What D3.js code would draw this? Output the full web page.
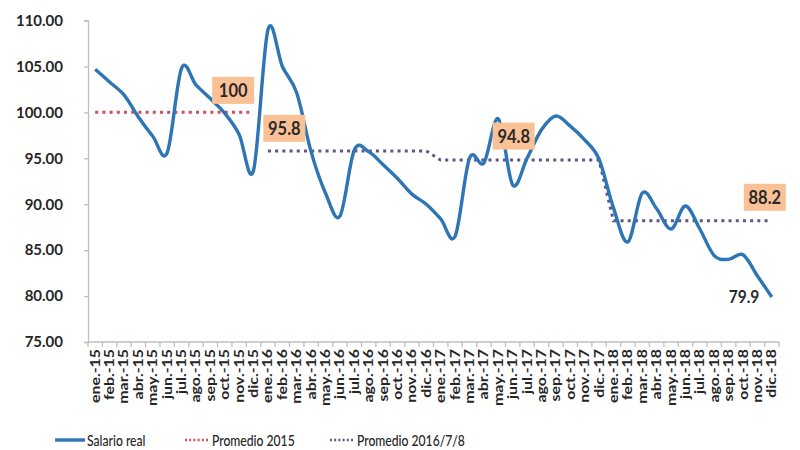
<!DOCTYPE html>
<html>
<head>
<meta charset="utf-8">
<script src="https://cdn.jsdelivr.net/npm/d3@7"></script>
<style>
  html, body { margin: 0; padding: 0; background: #ffffff; }
  svg { display: block; font-family: Lato, "Open Sans", sans-serif; }
</style>
</head>
<body>
<svg id="chart" width="800" height="450"></svg>
<script>
// ---------- data ----------
const months = [
  "ene.-15","feb.-15","mar.-15","abr.-15","may.-15","jun.-15","jul.-15","ago.-15","sep.-15","oct.-15","nov.-15","dic.-15",
  "ene.-16","feb.-16","mar.-16","abr.-16","may.-16","jun.-16","jul.-16","ago.-16","sep.-16","oct.-16","nov.-16","dic.-16",
  "ene.-17","feb.-17","mar.-17","abr.-17","may.-17","jun.-17","jul.-17","ago.-17","sep.-17","oct.-17","nov.-17","dic.-17",
  "ene.-18","feb.-18","mar.-18","abr.-18","may.-18","jun.-18","jul.-18","ago.-18","sep.-18","oct.-18","nov.-18","dic.-18"
];
const salarioReal = [
  104.7, 103.3, 101.9, 99.5, 97.4, 95.6, 104.8, 103.0, 101.5, 99.9, 97.6, 93.7,
  109.0, 105.0, 102.1, 95.7, 91.2, 88.7, 95.9, 95.7, 94.3, 92.8, 91.1, 90.0,
  88.4, 86.5, 95.0, 94.5, 99.3, 92.1, 95.0, 98.1, 99.6, 98.5, 97.0, 94.9,
  89.6, 85.9, 91.2, 89.5, 87.3, 89.8, 87.3, 84.4, 84.0, 84.5, 82.2, 79.9
];
const promedio2015Months = months.slice(0, 12);
const promedio2015 = [100,100,100,100,100,100,100,100,100,100,100,100];
const promedio161718Months = months.slice(12);
const promedio161718 = [
  95.8,95.8,95.8,95.8,95.8,95.8,95.8,95.8,95.8,95.8,95.8,95.8,
  94.8,94.8,94.8,94.8,94.8,94.8,94.8,94.8,94.8,94.8,94.8,94.8,
  88.2,88.2,88.2,88.2,88.2,88.2,88.2,88.2,88.2,88.2,88.2,88.2
];
const yTicks = [75, 80, 85, 90, 95, 100, 105, 110];
const seriesNames = ["Salario real", "Promedio 2015", "Promedio 2016/7/8"];
// annotation labels: [month, value, text, boxed]
const annotations = [
  ["nov.-15", 100, "100", true],
  ["feb.-16", 95.8, "95.8", true],
  ["jun.-17", 94.8, "94.8", true],
  ["dic.-18", 88.2, "88.2", true],
  ["oct.-18", 79.9, "79.9", false]
];

// ---------- layout ----------
const svg = d3.select("#chart");
const plotLeft = 88, plotRight = 779, plotTop = 20.5, plotBottom = 342;
const colBlue = "#2e75b6", colRed = "#cc4f5c", colPurple = "#625484";
const axisCol = "#bfbfbf", textCol = "#262626";

const x = d3.scaleBand().domain(months).range([plotLeft, plotRight]);
const xc = m => x(m) + x.bandwidth() / 2;
const y = d3.scaleLinear().domain([75, 110]).range([plotBottom, plotTop]);

// y axis
const yAxis = svg.append("g")
  .attr("transform", `translate(${plotLeft},0)`)
  .call(d3.axisLeft(y).tickValues(yTicks).tickFormat(d3.format(".2f")).tickSize(4).tickPadding(21));
yAxis.select(".domain").attr("stroke", axisCol).attr("stroke-width", 1.3);
yAxis.selectAll(".tick line").attr("stroke", axisCol).attr("stroke-width", 1.3);
yAxis.selectAll(".tick text")
  .attr("fill", textCol).attr("font-size", 15).attr("font-weight", 700)
  .attr("font-family", "Lato, sans-serif");

// x axis line + ticks at category boundaries
const xg = svg.append("g");
xg.append("line").attr("x1", plotLeft).attr("x2", plotRight).attr("y1", plotBottom).attr("y2", plotBottom)
  .attr("stroke", axisCol).attr("stroke-width", 1.3);
xg.selectAll("line.tk").data(months.concat(["__end"])).join("line").attr("class", "tk")
  .attr("x1", d => d === "__end" ? plotRight : x(d))
  .attr("x2", d => d === "__end" ? plotRight : x(d))
  .attr("y1", plotBottom).attr("y2", plotBottom + 5)
  .attr("stroke", axisCol).attr("stroke-width", 1.3);
xg.selectAll("text.lbl").data(months).join("text").attr("class", "lbl")
  .attr("transform", d => `translate(${xc(d) + 4.5},${plotBottom + 7}) rotate(-90) scale(1.22,1.05)`)
  .attr("text-anchor", "end")
  .attr("font-size", 13).attr("font-weight", 700).attr("fill", textCol)
  .text(d => d);

// promedio lines
const lineGen = d3.line().x(d => xc(d[0])).y(d => y(d[1]));
svg.append("path")
  .datum(promedio2015Months.map((m, i) => [m, promedio2015[i]]))
  .attr("d", lineGen).attr("fill", "none")
  .attr("stroke", colRed).attr("stroke-width", 3).attr("stroke-dasharray", "3,4.2");
svg.append("path")
  .datum(promedio161718Months.map((m, i) => [m, promedio161718[i]]))
  .attr("d", lineGen).attr("fill", "none")
  .attr("stroke", colPurple).attr("stroke-width", 3).attr("stroke-dasharray", "3,4.2");

// salario real smoothed line
const smooth = d3.line().x(d => xc(d[0])).y(d => y(d[1])).curve(d3.curveCardinal.tension(0));
svg.append("path")
  .datum(months.map((m, i) => [m, salarioReal[i]]))
  .attr("d", smooth).attr("fill", "none")
  .attr("stroke", colBlue).attr("stroke-width", 3.4).attr("stroke-linejoin", "round");

// annotations
const offsets = { "100": [-6, -22], "95.8": [2, -22.6], "94.8": [1, -24], "88.2": [-7, -23.5], "79.9": [1, 0] };
annotations.forEach(([m, v, t, boxed]) => {
  const [dx, dy] = offsets[t];
  const cx = xc(m) + dx, cy = y(v) + dy;
  const g = svg.append("g").attr("transform", `translate(${cx},${cy})`);
  if (boxed) {
    g.append("rect").attr("x", -21).attr("y", -13.5).attr("width", 42).attr("height", 27)
      .attr("fill", "#f9c195");
  }
  g.append("text").attr("text-anchor", "middle").attr("dy", "0.36em")
    .attr("font-size", boxed ? 16.5 : 15.5).attr("font-weight", 700).attr("fill", "#2a2a2a")
    .attr("transform", "scale(1,1.12)")
    .text(t);
});

// legend
const legendY = 440;
const legend = [
  { name: seriesNames[0], x0: 55, x1: 85, tx: 87, color: colBlue, dash: null, w: 3.4 },
  { name: seriesNames[1], x0: 185, x1: 208, tx: 212, color: colRed, dash: "2,2.2", w: 2.6 },
  { name: seriesNames[2], x0: 330, x1: 353, tx: 357, color: colPurple, dash: "2,2.2", w: 2.6 }
];
const lg = svg.append("g");
legend.forEach(l => {
  lg.append("line").attr("x1", l.x0).attr("x2", l.x1).attr("y1", legendY).attr("y2", legendY)
    .attr("stroke", l.color).attr("stroke-width", l.w).attr("stroke-dasharray", l.dash);
  lg.append("text").attr("x", l.tx).attr("y", legendY).attr("dy", "0.36em")
    .attr("font-size", 13.5).attr("fill", textCol).attr("font-weight", 500)
    .attr("transform", `translate(${l.tx},${legendY}) scale(0.9,1.2) translate(${-l.tx},${-legendY})`)
    .text(l.name);
});
</script>
</body>
</html>
